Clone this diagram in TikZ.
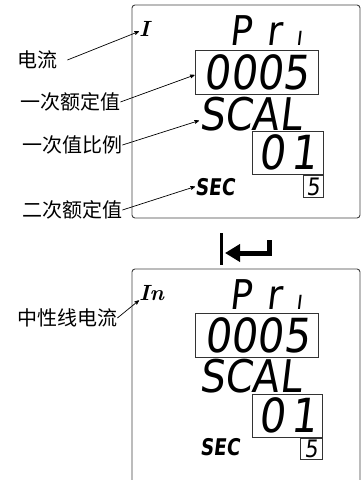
\documentclass[tikz,border=0pt]{standalone}
\usepackage{fontspec}
\usetikzlibrary{arrows, arrows.meta}
\newfontfamily\lcd{DejaVu Sans}[FakeSlant=0.12, FakeStretch=0.88]
\newfontfamily\lcdsmall{DejaVu Sans}[FakeSlant=0.12, FakeStretch=0.8]
\newfontfamily\cjk{Noto Sans CJK SC}

\begin{document}
\begin{tikzpicture}[x=1pt,y=-1pt,
    panel/.style={draw=black!75, line width=0.9pt, rounded corners=3pt},
    bigseg/.style={font=\lcd\fontsize{47}{47}\selectfont, inner sep=0pt},
    priseg/.style={font=\lcd\fontsize{41}{41}\selectfont, inner sep=0pt, anchor=base west},
    midseg/.style={font=\lcd\fontsize{45}{45}\selectfont, inner sep=0pt, anchor=base west},
    unitseg/.style={font=\lcd\fontsize{24}{24}\selectfont, inner sep=0pt},
    smallseg/.style={font=\lcdsmall\bfseries\fontsize{23}{23}\selectfont, inner sep=0pt, anchor=base west},
    segbox/.style={draw=black!80, line width=0.8pt},
    tag/.style={font=\bfseries\itshape\fontsize{22}{22}\selectfont, inner sep=0pt, anchor=base west},
    note/.style={font=\cjk\fontsize{20}{20}\selectfont, inner sep=0pt, anchor=west},
    pointer/.style={->, >=stealth', line width=0.7pt}]
    \useasboundingbox (0,0) rectangle (361,480);

    % upper display
    \draw[panel] (132,5) rectangle (360,218);
    \node[tag] (cur1) at (139,36) {I};
    \node[priseg] (pri1) at (229,45) {P\hspace{16pt}r\hspace{14pt}{\fontsize{26}{26}\selectfont ı}};
    \node[segbox, bigseg, minimum width=123pt, minimum height=44pt] (val1) at (256.5,72) {0005};
    \node[midseg] (scal1) at (199,130) {SCAL};
    \node[segbox, bigseg, minimum width=71pt, minimum height=43pt] (ratio1) at (287.5,152.5) {0\hspace{6pt}1};
    \node[segbox, unitseg, minimum width=20pt, minimum height=22pt] (unit1) at (313,186.5) {5};
    \node[smallseg] (sec1) at (195,195) {SEC};

    \node[note] (n1) at (17,60) {电流};
    \node[note] (n2) at (20,102) {一次额定值};
    \node[note] (n3) at (22,145) {一次值比例};
    \node[note] (n4) at (22,210) {二次额定值};

    \draw[pointer] ([xshift=10pt]n1.east) -- ([yshift=-3pt]cur1.west);
    \draw[pointer] (n2.east) -- ([yshift=-3pt]val1.west);
    \draw[pointer] (n3.east) -- ([yshift=-7pt]scal1.west);
    \draw[pointer] (n4.east) -- (sec1.west);

    % enter key
    \draw[line width=3pt] (221,233) -- (221,265);
    \draw[line width=5pt, -{Triangle[length=15pt,width=17pt]}] (269.5,240) |- (225,253);

    % lower display
    \draw[panel] (132,482) -- (132,269) -- (360,269) -- (360,482);
    \node[tag] (cur2) at (139,300) {In};
    \node[priseg] (pri2) at (229,309) {P\hspace{16pt}r\hspace{14pt}{\fontsize{26}{26}\selectfont ı}};
    \node[segbox, bigseg, minimum width=123pt, minimum height=44pt] (val2) at (257,335.5) {0005};
    \node[midseg] (scal2) at (199,392) {SCAL};
    \node[segbox, bigseg, minimum width=70pt, minimum height=43pt] (ratio2) at (287.5,415.5) {0\hspace{6pt}1};
    \node[segbox, unitseg, minimum width=22pt, minimum height=21pt] (unit2) at (311,449) {5};
    \node[smallseg] (sec2) at (200,455) {SEC};

    \node[note] (n5) at (17,318) {中性线电流};
    \draw[pointer] (n5.east) -- (cur2.south west);
\end{tikzpicture}
\end{document}
